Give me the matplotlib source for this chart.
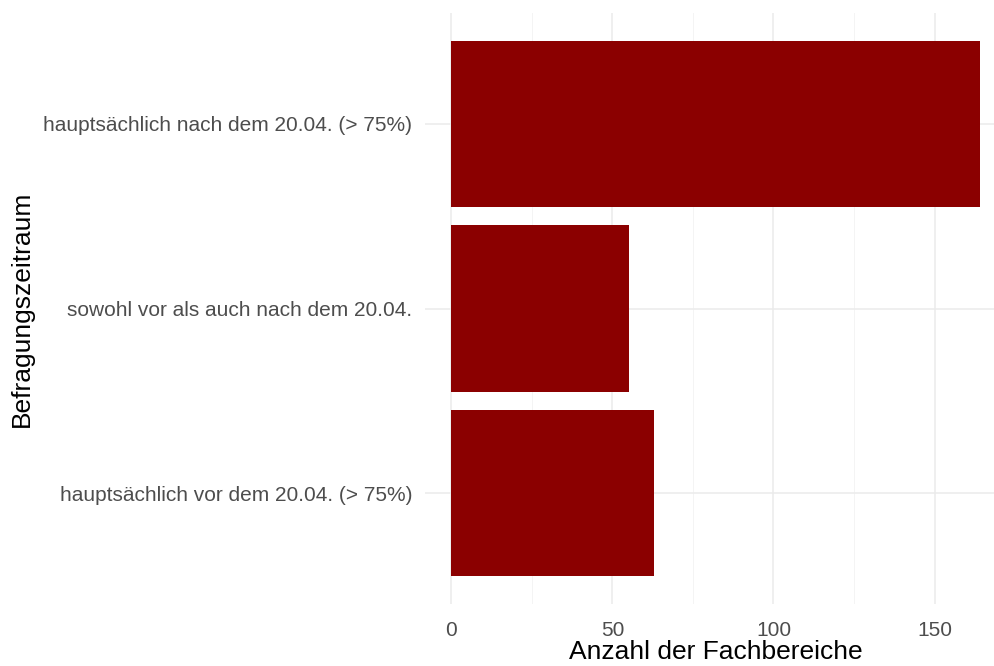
import matplotlib.pyplot as plt

# Daten aus dem Balkendiagramm
kategorien = ['hauptsächlich vor dem 20.04. (> 75%)',
              'sowohl vor als auch nach dem 20.04.',
              'hauptsächlich nach dem 20.04. (> 75%)']
anzahl = [63, 55, 164]
x_ticks = [0, 50, 100, 150]
x_minor = [25, 75, 125]

plt.rcParams['font.family'] = ['Liberation Sans', 'DejaVu Sans']

fig = plt.figure(figsize=(9.95, 6.66), dpi=100)
ax = fig.add_axes([425/995, 62/666, 581/995, 591/666])

pos = list(range(len(kategorien)))
ax.barh(pos, anzahl, height=0.9, color='#8B0000', zorder=2)

ax.set_xlim(-0.05*max(anzahl), 1.05*max(anzahl))
ax.set_ylim(-0.6, len(kategorien) - 0.4)

ax.set_xticks(x_ticks)
ax.set_xticks(x_minor, minor=True)
ax.set_yticks(pos)
ax.set_yticklabels(kategorien)

ax.grid(which='major', color='#EBEBEB', linewidth=1.1, zorder=0)
ax.grid(which='minor', axis='x', color='#F2F2F2', linewidth=0.6, zorder=0)
for s in ax.spines.values():
    s.set_visible(False)
ax.tick_params(which='both', length=0)
ax.tick_params(axis='y', labelsize=15, labelcolor='#4D4D4D', pad=9)
ax.tick_params(axis='x', labelsize=15, labelcolor='#4D4D4D', pad=12)

ax.set_xlabel('Anzahl der Fachbereiche', fontsize=19, color='black', labelpad=0)
ax.set_ylabel('Befragungszeitraum', fontsize=19, color='black', labelpad=7)

fig.savefig('out.png', dpi=100)
